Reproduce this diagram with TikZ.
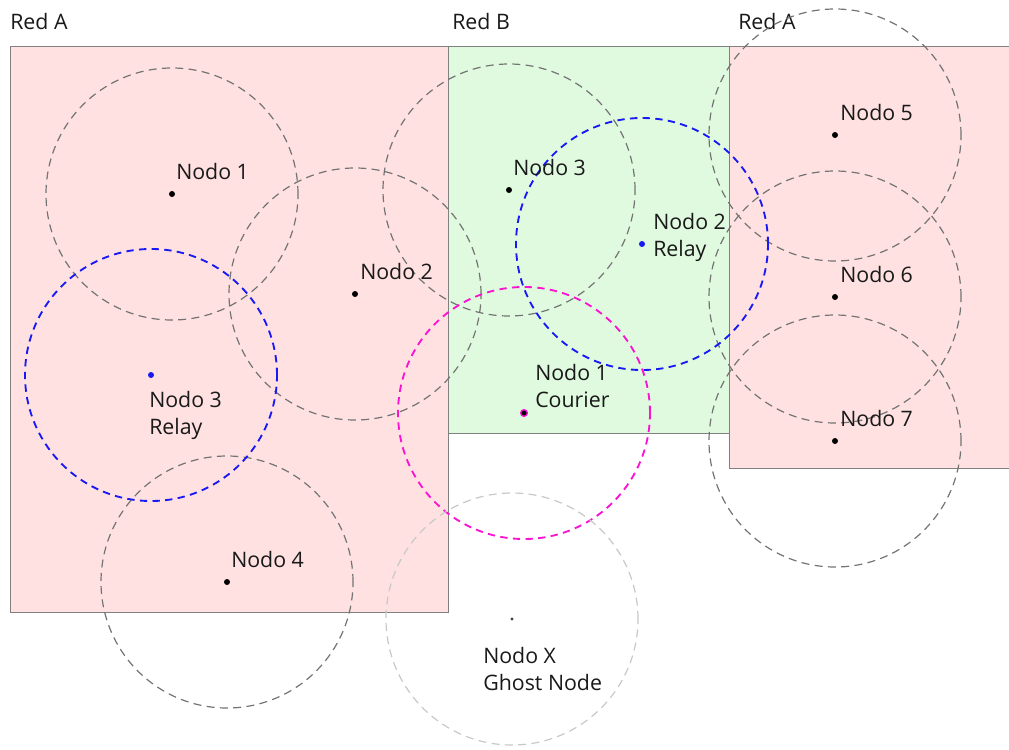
\documentclass[tikz,border=0pt]{standalone}
\usepackage{fontspec}
\setmainfont{Open Sans}
\definecolor{pinkA}{RGB}{255,225,225}
\definecolor{greenB}{RGB}{224,250,224}
\definecolor{boxgray}{RGB}{128,128,128}
\definecolor{rangegray}{RGB}{115,115,115}
\definecolor{ghostgray}{RGB}{200,200,200}
\definecolor{relayblue}{RGB}{25,25,245}
\definecolor{couriermag}{RGB}{250,20,210}
\begin{document}
\begin{tikzpicture}[x=0.75pt,y=-0.75pt,
  netA/.style={draw=boxgray, fill=pinkA, line width=0.75pt},
  netB/.style={draw=boxgray, fill=greenB, line width=0.75pt},
  radiorange/.style={draw=rangegray, line width=0.9pt, dash pattern=on 6pt off 4pt},
  relayrange/.style={draw=relayblue, line width=1.4pt, dash pattern=on 5.5pt off 4pt},
  courierrange/.style={draw=couriermag, line width=1.4pt, dash pattern=on 5.5pt off 4pt},
  ghostrange/.style={draw=ghostgray, line width=0.9pt, dash pattern=on 6pt off 4pt},
  dot/.style={circle, fill=black, inner sep=0pt, minimum size=4.5pt},
  relaydot/.style={dot, fill=relayblue},
  courierdot/.style={circle, fill=black, draw=couriermag, line width=1pt, inner sep=0pt, minimum size=5pt},
  ghostdot/.style={circle, fill=black!75, inner sep=0pt, minimum size=2.5pt},
  lbl/.style={anchor=north west, inner sep=0pt, align=left, text=black!90,
              font=\fontsize{16}{20.25}\selectfont}]
\useasboundingbox (0,0) rectangle (1009,749);
\clip (0,0) rectangle (1009,749);

% network areas
\path[netA] (10,47) rectangle (448,612);
\path[netB] (448,47) rectangle (729,433);
\path[netA] (729,47) rectangle (1015,468);
\node[lbl] (redA1) at (10,13) {Red A};
\node[lbl] (redB) at (452,13) {Red B};
\node[lbl] (redA2) at (738,13) {Red A};

% node positions
\coordinate (a1) at (172,194);
\coordinate (a2) at (355,294);
\coordinate (a3) at (151,375);
\coordinate (a4) at (227,582);
\coordinate (b3) at (509,190);
\coordinate (b2) at (642,244);
\coordinate (b1) at (524,413);
\coordinate (gx) at (512,619);
\coordinate (c5) at (835,135);
\coordinate (c6) at (835,297);
\coordinate (c7) at (835,441);

% radio ranges
\foreach \p in {a1,a2,a4,b3,c5,c6,c7}
  \draw[radiorange] (\p) circle[radius=94.5pt];
\draw[relayrange] (a3) circle[radius=94.5pt];
\draw[relayrange] (b2) circle[radius=94.5pt];
\draw[courierrange] (b1) circle[radius=94.5pt];
\draw[ghostrange] (gx) circle[radius=94.5pt];

% nodes
\node[dot] (na1) at (a1) {};
\node[dot] (na2) at (a2) {};
\node[relaydot] (na3) at (a3) {};
\node[dot] (na4) at (a4) {};
\node[dot] (nb3) at (b3) {};
\node[relaydot] (nb2) at (b2) {};
\node[courierdot] (nb1) at (b1) {};
\node[ghostdot] (ngx) at (gx) {};
\node[dot] (nc5) at (c5) {};
\node[dot] (nc6) at (c6) {};
\node[dot] (nc7) at (c7) {};

% labels
\node[lbl] (la1) at (176,163.5) {Nodo 1};
\node[lbl] (la2) at (360,263.5) {Nodo 2};
\node[lbl] (la3) at (149,391.5) {Nodo 3\\Relay};
\node[lbl] (la4) at (231,551.5) {Nodo 4};
\node[lbl] (lb3) at (513,159.5) {Nodo 3};
\node[lbl] (lb2) at (653,213.5) {Nodo 2\\Relay};
\node[lbl] (lb1) at (535,364.5) {Nodo 1\\Courier};
\node[lbl] (lgx) at (483,647.5) {Nodo X\\Ghost Node};
\node[lbl] (lc5) at (840,104.5) {Nodo 5};
\node[lbl] (lc6) at (840,266.5) {Nodo 6};
\node[lbl] (lc7) at (840,410.5) {Nodo 7};
\end{tikzpicture}
\end{document}
